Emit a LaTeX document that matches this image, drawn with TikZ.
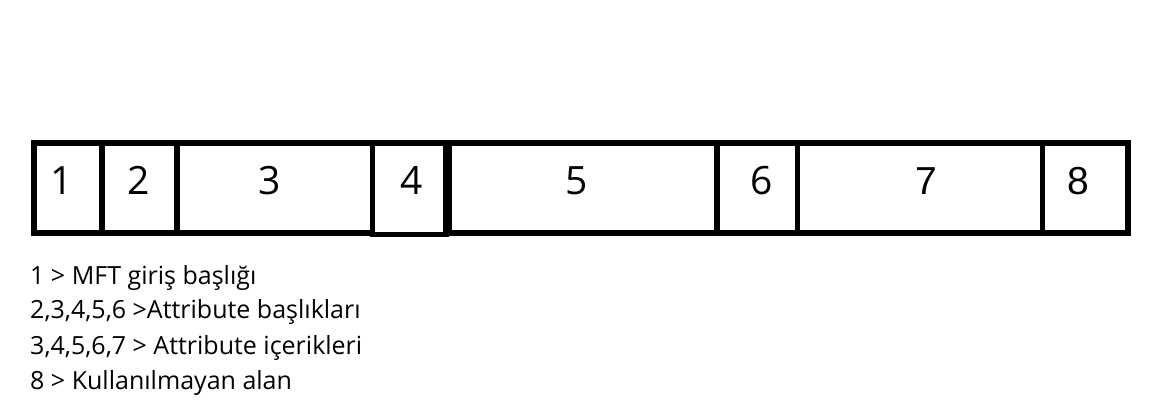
\documentclass[tikz,border=0pt]{standalone}
\usepackage{fontspec}
\setmainfont{Open Sans}
\newfontfamily\arialfont{Liberation Sans}
\begin{document}
\begin{tikzpicture}[x=1pt,y=-1pt,
  cell/.style={draw=black, line width=5.5pt, rectangle, inner sep=0pt, outer sep=0pt},
  digit/.style={anchor=base, inner sep=0pt, font=\fontsize{39}{39}\selectfont},
  adigit/.style={anchor=base, inner sep=0pt, font=\arialfont\fontsize{39}{39}\selectfont},
  legend/.style={anchor=base west, inner sep=0pt, font=\fontsize{25}{30}\selectfont}]
\useasboundingbox (0,0) rectangle (1152,414);
% cells
\node[cell, minimum width=68pt,  minimum height=90pt] (b1) at (68,188) {};
\node[cell, minimum width=75pt,  minimum height=90pt] (b2) at (139.5,188) {};
\node[cell, minimum width=195.5pt, minimum height=90pt] (b3) at (274.75,188) {};
\node[cell, minimum width=73.5pt, minimum height=91.5pt] (b4) at (409.25,188.75) {};
\node[cell, minimum width=268pt, minimum height=90pt] (b5) at (583,188) {};
\node[cell, minimum width=80.5pt, minimum height=90pt] (b6) at (757.25,188) {};
\node[cell, minimum width=245pt, minimum height=90pt] (b7) at (920,188) {};
\node[cell, minimum width=85.5pt, minimum height=90pt] (b8) at (1085.25,188) {};
% digits
\node[digit]  (d1) at (62,195) {1};
\node[digit]  (d2) at (139,195) {2};
\node[digit]  (d3) at (270,195) {3};
\node[digit]  (d4) at (412,195) {4};
\node[digit]  (d5) at (576.5,195) {5};
\node[digit]  (d6) at (762,195) {6};
\node[adigit] (d7) at (926,195) {7};
\node[adigit] (d8) at (1078,195) {8};
% legend
\node[legend] (l1) at (30,284) {1 > MFT giriş başlığı};
\node[legend] (l2) at (30,319) {2,3,4,5,6 >Attribute başlıkları};
\node[legend] (l3) at (30,354) {3,4,5,6,7 > Attribute içerikleri};
\node[legend] (l4) at (30,389) {8 > Kullanılmayan alan};
\end{tikzpicture}
\end{document}
